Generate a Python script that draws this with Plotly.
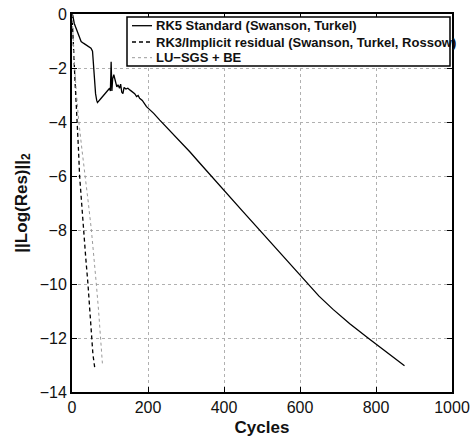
import plotly.graph_objects as go

# RK5 Standard (Swanson, Turkel)
rk5_x = [0, 2, 6, 10, 15, 20, 24, 30, 37, 45, 50, 54, 58, 62, 65, 67, 75, 85, 95, 99, 101, 103, 105,
         107, 110, 114, 118, 121, 125, 128, 131, 134, 137, 142, 147, 153, 160, 165, 170, 174, 178,
         185, 196, 215, 231, 255, 284, 310, 336, 367, 400, 450, 498, 550, 600, 618, 650, 687, 731,
         779, 830, 875]
rk5_y = [0.0, -0.05, -0.35, -0.5, -0.72, -0.88, -1.02, -1.08, -1.15, -1.22, -1.27, -1.38, -2.2, -2.95,
         -3.2, -3.28, -3.15, -2.98, -2.8, -2.75, -2.85, -1.77, -2.85, -2.4, -2.25, -2.45, -2.7, -2.62,
         -2.75, -2.6, -2.9, -2.95, -2.72, -2.78, -2.75, -2.82, -2.88, -2.95, -3.06, -3.02, -3.12,
         -3.2, -3.43, -3.68, -3.93, -4.28, -4.7, -5.1, -5.52, -6.02, -6.54, -7.32, -8.07, -8.88,
         -9.68, -9.97, -10.45, -10.94, -11.47, -12.0, -12.55, -13.03]

# RK3/Implicit residual (Swanson, Turkel, Rossow)
rk3_x = [0, 2, 5, 8, 11, 14, 17, 20, 25, 31, 36, 42, 47, 51, 55, 60]
rk3_y = [0.0, -0.8, -1.8, -2.5, -3.3, -4.0, -5.0, -6.0, -7.0, -8.0, -9.0, -10.0, -11.0, -12.0, -12.6, -13.12]

# LU-SGS + BE
lu_x = [0, 3, 7, 12, 18, 26, 35, 43, 51, 58, 64, 70, 75.5, 80]
lu_y = [0.0, -1.0, -2.0, -3.0, -4.0, -5.0, -6.0, -7.0, -8.0, -9.0, -10.0, -11.0, -12.0, -12.94]

x_ticks = [0, 200, 400, 600, 800, 1000]
y_ticks = [0, -2, -4, -6, -8, -10, -12, -14]

series_names = ["RK5 Standard (Swanson, Turkel)",
                "RK3/Implicit residual (Swanson, Turkel, Rossow)",
                "LU\u2212SGS + BE"]
series_styles = [dict(color="black", width=1.3, dash="solid"),
                 dict(color="black", width=1.3, dash="4px,3px"),
                 dict(color="#9a9a9a", width=1, dash="dot")]

FONT = "Liberation Sans, Arial, Helvetica, sans-serif"

fig = go.Figure()
for (xs, ys), name, st in zip([(rk5_x, rk5_y), (rk3_x, rk3_y), (lu_x, lu_y)], series_names, series_styles):
    fig.add_trace(go.Scatter(x=xs, y=ys, mode="lines", name=name, line=st, showlegend=False))

axis_common = dict(
    showline=True, linecolor="black", linewidth=2, mirror="ticks",
    ticks="inside", ticklen=5, tickcolor="black", tickwidth=1,
    showgrid=True, gridcolor="#b0b0b0", griddash="dot", gridwidth=1,
    zeroline=False, automargin=False,
    tickfont=dict(family=FONT, size=16, color="#111"),
)

fig.update_xaxes(range=[0, 1000], tickvals=x_ticks, ticktext=[str(v) for v in x_ticks],
                 title=dict(text="<b>Cycles</b>", font=dict(family=FONT, size=17, color="#111"), standoff=6),
                 **axis_common)
fig.update_yaxes(range=[-14, 0], tickvals=y_ticks,
                 ticktext=[("\u2212" + str(-v)) if v < 0 else str(v) for v in y_ticks],
                 title=dict(text="<b>||Log(Res)||<sub>2</sub></b>", font=dict(family=FONT, size=17, color="#111"), standoff=8),
                 **axis_common)

# Legend drawn as a boxed key in paper coordinates
L, R, T, B = 72, 452, 14, 392
def px_x(p):
    return (p - L) / (R - L)
def px_y(p):
    return (B - p) / (B - T)

shapes = [dict(type="rect", xref="paper", yref="paper",
               x0=px_x(127), x1=px_x(450), y0=px_y(66), y1=px_y(17),
               line=dict(color="black", width=1.5), fillcolor="white", layer="above")]
annotations = []
row_y = [25.7, 42.0, 57.7]
for name, st, ry in zip(series_names, series_styles, row_y):
    shapes.append(dict(type="line", xref="paper", yref="paper",
                       x0=px_x(132), x1=px_x(152), y0=px_y(ry), y1=px_y(ry),
                       line=dict(color=st["color"], width=st["width"], dash=st["dash"]), layer="above"))
    annotations.append(dict(xref="paper", yref="paper", x=px_x(153.5), y=px_y(ry),
                            xanchor="left", yanchor="middle", showarrow=False,
                            text="<b>" + name + "</b>",
                            font=dict(family=FONT, size=13, color="#111")))

fig.update_layout(
    width=470, height=438,
    margin=dict(l=72, r=18, t=14, b=46),
    paper_bgcolor="white", plot_bgcolor="white",
    font=dict(family=FONT, color="#111"),
    showlegend=False,
    shapes=shapes, annotations=annotations,
)

fig.write_html("out.html")
